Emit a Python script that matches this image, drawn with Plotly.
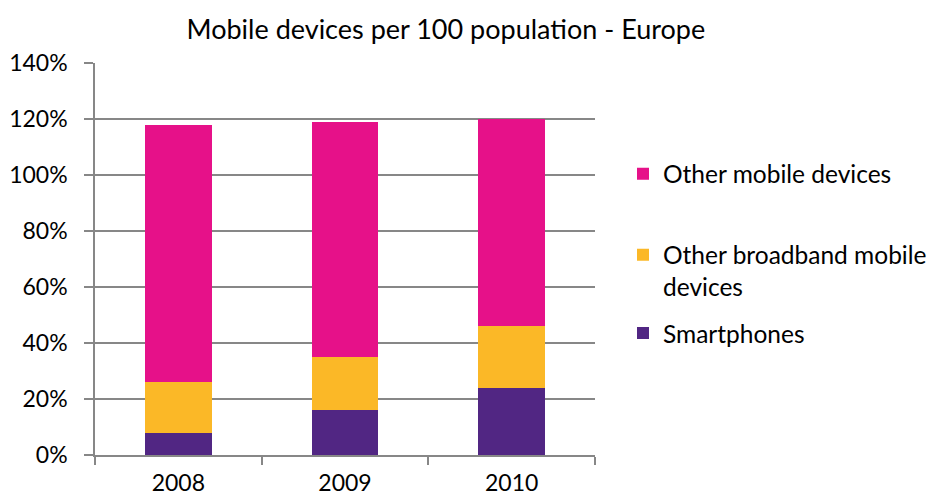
import plotly.graph_objects as go

# Mobile devices per 100 population in Europe, stacked by device type (%)
years = ["2008", "2009", "2010"]
smartphones = [8, 16, 24]
other_broadband = [18, 19, 22]
other_mobile = [92, 84, 74]

y_ticks = [0, 20, 40, 60, 80, 100, 120, 140]
y_tick_labels = ["0%", "20%", "40%", "60%", "80%", "100%", "120%", "140%"]

PURPLE = "#512683"
YELLOW = "#FBB827"
PINK = "#E61189"
GRID = "#878787"
FONT = "Lato"

fig = go.Figure()
fig.add_trace(go.Bar(x=years, y=smartphones, name="Smartphones",
                     marker=dict(color=PURPLE, line=dict(width=0)), legend="legend3"))
fig.add_trace(go.Bar(x=years, y=other_broadband, name="Other broadband mobile<br>devices",
                     marker=dict(color=YELLOW, line=dict(width=0)), legend="legend2"))
fig.add_trace(go.Bar(x=years, y=other_mobile, name="Other mobile devices",
                     marker=dict(color=PINK, line=dict(width=0)), legend="legend"))

legend_style = dict(xanchor="left", x=1.056, yanchor="middle",
                    font=dict(family=FONT, size=24.5, color="#000000"),
                    bgcolor="rgba(0,0,0,0)", borderwidth=0, itemclick=False)

fig.update_layout(
    width=927, height=499,
    margin=dict(l=95, r=332, t=63, b=44, autoexpand=False),
    paper_bgcolor="white", plot_bgcolor="white",
    barmode="stack", bargap=0.6,
    font=dict(family=FONT, size=23, color="#000000"),
    title=dict(text="Mobile devices per 100 population - Europe",
               x=0.481, xanchor="center", y=0.94, yanchor="middle",
               font=dict(family=FONT, size=27, color="#000000")),
    showlegend=True,
    legend=dict(y=0.717, **legend_style),
    legend2=dict(y=0.47, valign="top", **legend_style),
    legend3=dict(y=0.311, **legend_style),
    xaxis=dict(type="category", showline=True, linecolor=GRID, linewidth=1.5,
               ticks="outside", tickson="boundaries", ticklen=8, tickcolor=GRID,
               tickwidth=1.5, showgrid=False, ticklabelstandoff=7, automargin=False,
               tickfont=dict(family=FONT, size=23, color="#000000")),
    yaxis=dict(range=[0, 140], tickvals=y_ticks, ticktext=y_tick_labels,
               showgrid=True, gridcolor=GRID, gridwidth=1.5,
               showline=True, linecolor=GRID, linewidth=1.5,
               ticks="outside", ticklen=9, tickcolor=GRID, tickwidth=1.5,
               zeroline=False, ticklabelstandoff=12, automargin=False,
               tickfont=dict(family=FONT, size=23, color="#000000")),
)

fig.write_html("out.html")
